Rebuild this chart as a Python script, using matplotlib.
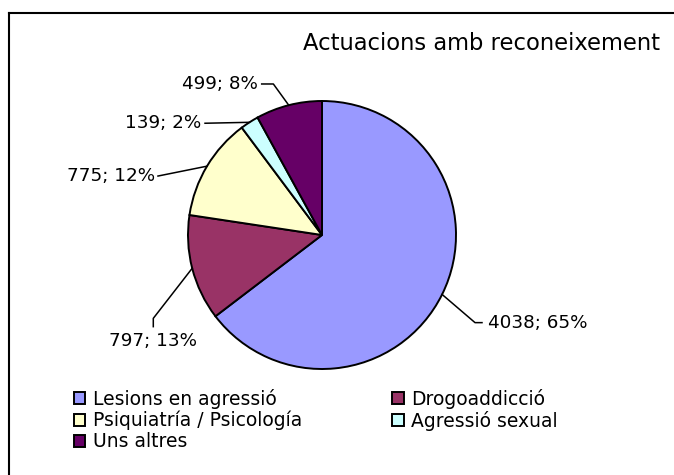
import matplotlib
matplotlib.use('Agg')
import matplotlib.pyplot as plt
import numpy as np
from matplotlib.lines import Line2D

categories = ['Lesions en agressió', 'Drogoaddicció', 'Psiquiatría / Psicología',
              'Agressió sexual', 'Uns altres']
values = [4038, 797, 775, 139, 499]
colors = ['#9999FF', '#993366', '#FFFFCC', '#CCFFFF', '#660066']
title = 'Actuacions amb reconeixement'

plt.rcParams['font.family'] = 'DejaVu Sans'

W, H = 674, 475
fig = plt.figure(figsize=(W / 100, H / 100), dpi=100)

# pie placed by pixel centre / radius
cx, cy, r = 322, 235, 134
ax = fig.add_axes([(cx - r) / W, (H - cy - r) / H, 2 * r / W, 2 * r / H])
wedges, _ = ax.pie(values, colors=colors, startangle=90, counterclock=False,
                   wedgeprops=dict(edgecolor='black', linewidth=1.4))
ax.set_xlim(-1, 1)
ax.set_ylim(-1, 1)
ax.axis('off')

# leader line bends and label anchors (pie units)
layout = [
    ([(1.142, -0.654), (1.194, -0.654)], (1.239, -0.654), 'left', 'center'),
    ([(-1.259, -0.622), (-1.259, -0.684)], (-1.26, -0.725), 'center', 'top'),
    ([(-1.224, 0.440)], (-1.246, 0.440), 'right', 'center'),
    ([(-0.873, 0.834)], (-0.903, 0.834), 'right', 'center'),
    ([(-0.363, 1.127), (-0.45, 1.127)], (-0.478, 1.127), 'right', 'center'),
]
total = sum(values)
for w, v, (pts, tpos, ha, va) in zip(wedges, values, layout):
    mid = np.deg2rad((w.theta1 + w.theta2) / 2)
    xs = [np.cos(mid)] + [p[0] for p in pts]
    ys = [np.sin(mid)] + [p[1] for p in pts]
    ax.plot(xs, ys, color='black', lw=1.1, clip_on=False)
    ax.text(tpos[0], tpos[1], f'{v}; {round(v / total * 100)}%',
            ha=ha, va=va, fontsize=13.2)

fig.text(660 / W, 1 - 44 / H, title, ha='right', va='center', fontsize=16.3)

# chart area border (only top and left visible)
fig.add_artist(Line2D([8.5 / W, 1], [1 - 12.5 / H] * 2, transform=fig.transFigure,
                      color='black', lw=1.5))
fig.add_artist(Line2D([8.5 / W] * 2, [0, 1 - 12.5 / H], transform=fig.transFigure,
                      color='black', lw=1.5))

order = [0, 2, 4, 1, 3]
fig.legend([wedges[i] for i in order], [categories[i] for i in order], ncol=2,
           loc='upper left', bbox_to_anchor=(74 / W, 1 - 389 / H), frameon=False,
           fontsize=13.5, handlelength=0.6, handleheight=0.6, handletextpad=0.4,
           labelspacing=0.1, columnspacing=4.82, borderpad=0, borderaxespad=0)

fig.savefig('out.png', dpi=100)
